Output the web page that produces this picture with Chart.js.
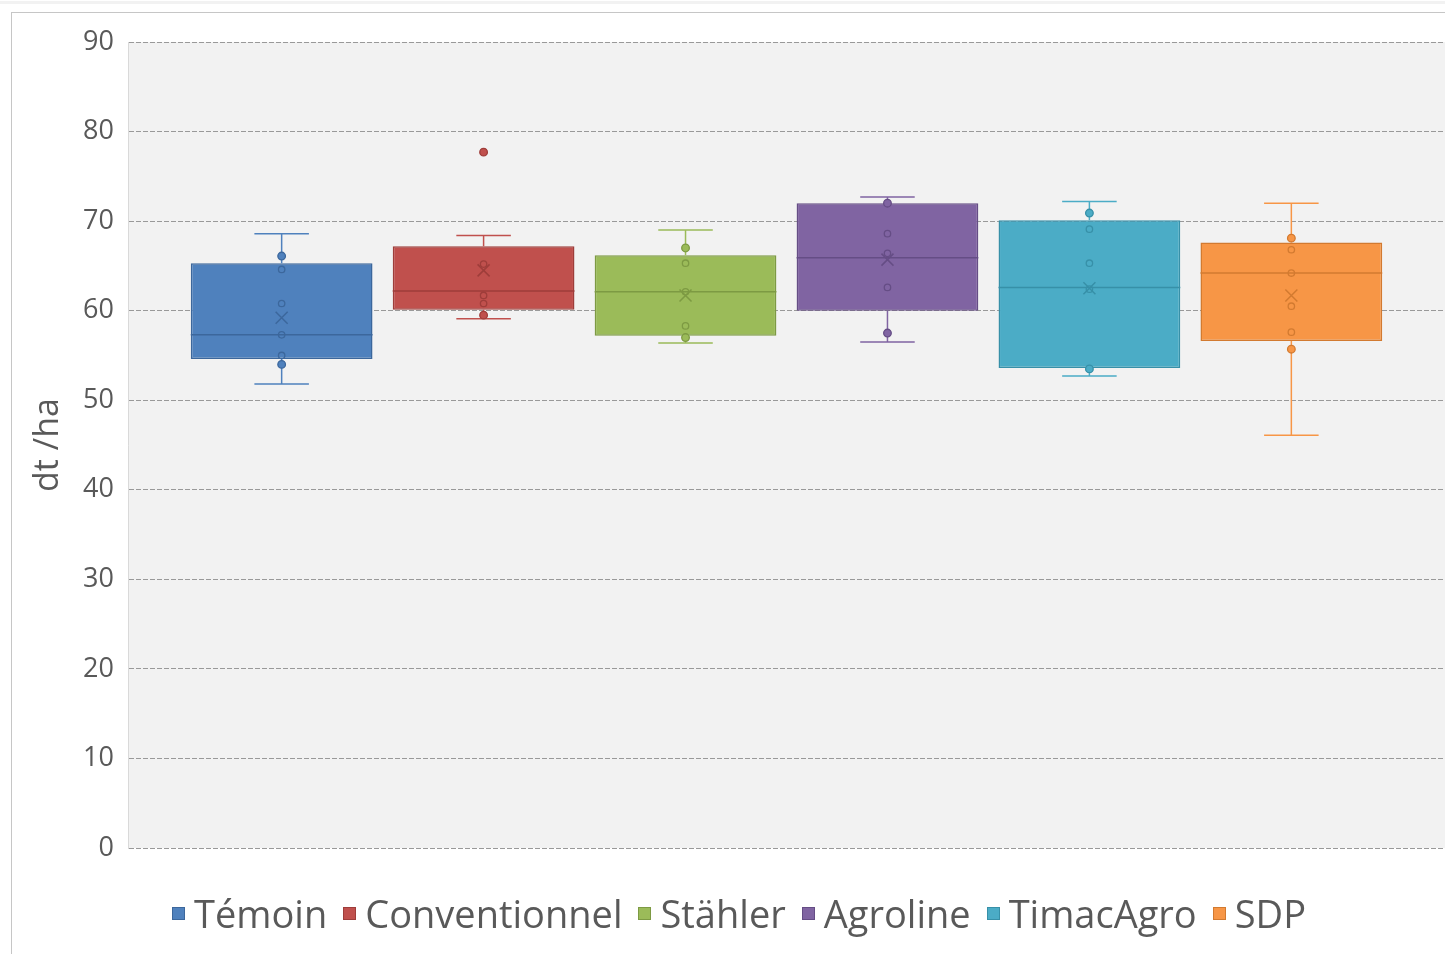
<!DOCTYPE html>
<html>
<head>
<meta charset="utf-8">
<script src="https://cdn.jsdelivr.net/npm/chart.js@4.4.1/dist/chart.umd.min.js"></script>
<style>
  html, body { margin: 0; padding: 0; background: #fff; overflow: hidden; }
  .strip { position: absolute; left: 0; top: 1px; width: 1445px; height: 3px; background: #f2f2f2; }
  .frame { position: absolute; left: 11px; top: 12px; width: 1500px; height: 1000px;
           border-left: 1.5px solid #c6c6c6; border-top: 1.5px solid #c6c6c6; }
  #chart { position: absolute; left: 0; top: 0; }
  #legend { position: absolute; left: 0; top: 894px; width: 1478px; height: 38px;
            display: flex; justify-content: center; align-items: center;
            font-family: 'Open Sans'; font-size: 38px; line-height: 38px; color: #595959; }
  #legend .item { display: flex; align-items: center; margin: 0 8px; white-space: nowrap; }
  #legend .sw { width: 13px; height: 13px; margin-right: 9px; box-sizing: border-box; border: 1px solid; }
</style>
</head>
<body>
<div class="strip"></div>
<div class="frame"></div>
<canvas id="chart" width="1445" height="954"></canvas>
<div id="legend"></div>
<script>
// categories and box statistics (dt/ha)
const categories = ['Témoin', 'Conventionnel', 'Stähler', 'Agroline', 'TimacAgro', 'SDP'];
const boxQ1 = [54.6, 60.1, 57.2, 60.0, 53.6, 56.6];
const boxQ3 = [65.3, 67.2, 66.2, 72.0, 70.1, 67.6];
const medians = [57.3, 62.2, 62.1, 65.9, 62.6, 64.2];
const means = [59.2, 64.5, 61.7, 65.7, 62.5, 61.7];
const whiskerLow = [51.8, 59.1, 56.4, 56.5, 52.7, 46.1];
const whiskerHigh = [68.6, 68.4, 69.0, 72.7, 72.2, 72.0];
const innerPoints = [
  [64.6, 60.8, 57.3, 55.0],
  [65.2, 61.7, 60.8],
  [65.3, 62.1, 58.3],
  [68.6, 66.4, 62.6],
  [69.1, 65.3, 62.4],
  [66.8, 64.2, 60.5, 57.6]
];
const edgePoints = [
  [66.1, 54.0],
  [77.7, 59.5],
  [67.0, 57.0],
  [72.0, 57.5],
  [70.9, 53.5],
  [68.1, 55.7]
];
const yTicks = [0, 10, 20, 30, 40, 50, 60, 70, 80, 90];

const fills = ['#4f81bd', '#c0504d', '#9bbb59', '#8064a2', '#4bacc6', '#f79646'];
const darks = ['#3c679c', '#9e3d3a', '#7d9a43', '#654d85', '#3790a8', '#d27a30'];

const plotBackground = {
  id: 'plotBackground',
  beforeDraw(chart) {
    const { ctx, chartArea: a } = chart;
    ctx.save();
    ctx.fillStyle = '#f2f2f2';
    ctx.fillRect(a.left, a.top, a.right - a.left, a.bottom - a.top);
    ctx.restore();
  }
};

// whiskers, median, points and mean marker on top of each floating bar
const boxExtras = {
  id: 'boxExtras',
  afterDatasetsDraw(chart) {
    const ctx = chart.ctx;
    const y = chart.scales.y;
    categories.forEach((name, i) => {
      const bar = chart.getDatasetMeta(i).data[0];
      if (!bar) return;
      const x = bar.x;
      const w = bar.width;
      const cap = w * 0.15;
      ctx.save();
      ctx.lineWidth = 1.5;

      // whiskers
      ctx.strokeStyle = fills[i];
      ctx.beginPath();
      ctx.moveTo(x, y.getPixelForValue(boxQ3[i]));
      ctx.lineTo(x, y.getPixelForValue(whiskerHigh[i]));
      ctx.moveTo(x - cap, y.getPixelForValue(whiskerHigh[i]));
      ctx.lineTo(x + cap, y.getPixelForValue(whiskerHigh[i]));
      ctx.moveTo(x, y.getPixelForValue(boxQ1[i]));
      ctx.lineTo(x, y.getPixelForValue(whiskerLow[i]));
      ctx.moveTo(x - cap, y.getPixelForValue(whiskerLow[i]));
      ctx.lineTo(x + cap, y.getPixelForValue(whiskerLow[i]));
      ctx.stroke();

      // median
      ctx.strokeStyle = darks[i];
      ctx.beginPath();
      ctx.moveTo(x - w / 2, y.getPixelForValue(medians[i]));
      ctx.lineTo(x + w / 2, y.getPixelForValue(medians[i]));
      ctx.stroke();

      // inner points (hollow)
      ctx.lineWidth = 1.3;
      innerPoints[i].forEach(v => {
        ctx.beginPath();
        ctx.arc(x, y.getPixelForValue(v), 3.2, 0, Math.PI * 2);
        ctx.stroke();
      });

      // edge points (filled)
      ctx.fillStyle = fills[i];
      edgePoints[i].forEach(v => {
        ctx.beginPath();
        ctx.arc(x, y.getPixelForValue(v), 3.8, 0, Math.PI * 2);
        ctx.fill();
        ctx.stroke();
      });

      // mean marker
      const my = y.getPixelForValue(means[i]);
      ctx.lineWidth = 1.5;
      ctx.beginPath();
      ctx.moveTo(x - 6, my - 6);
      ctx.lineTo(x + 6, my + 6);
      ctx.moveTo(x + 6, my - 6);
      ctx.lineTo(x - 6, my + 6);
      ctx.stroke();
      ctx.restore();
    });
  }
};

const chart = new Chart(document.getElementById('chart'), {
  type: 'bar',
  data: {
    labels: [''],
    datasets: categories.map((name, i) => ({
      label: name,
      data: [[boxQ1[i], boxQ3[i]]],
      backgroundColor: fills[i],
      borderColor: darks[i],
      borderWidth: 1.5,
      borderSkipped: false,
      barPercentage: 0.9,
      categoryPercentage: 0.92
    }))
  },
  options: {
    responsive: false,
    animation: false,
    devicePixelRatio: 1,
    layout: { padding: { top: 42, right: 0, bottom: 0, left: 0 } },
    plugins: {
      tooltip: { enabled: false },
      legend: { display: false }
    },
    scales: {
      x: {
        afterFit(scale) { scale.height = 106; },
        ticks: { display: false },
        grid: { display: false },
        border: { display: false }
      },
      y: {
        min: 0,
        max: 90,
        afterFit(scale) { scale.width = 128; },
        afterBuildTicks(scale) { scale.ticks = yTicks.map(v => ({ value: v })); },
        ticks: {
          padding: 14,
          color: '#595959',
          font: { family: 'Open Sans', size: 27 }
        },
        grid: { color: '#999999', lineWidth: 1, drawTicks: false },
        border: { display: true, color: '#d9d9d9', dash: [5, 2] },
        title: {
          display: true,
          text: 'dt /ha',
          color: '#595959',
          padding: { top: 28 },
          font: { family: 'Open Sans', size: 34 }
        }
      }
    }
  },
  plugins: [plotBackground, boxExtras]
});

// legend built from the chart's datasets
const legendEl = document.getElementById('legend');
chart.data.datasets.forEach(ds => {
  const item = document.createElement('div');
  item.className = 'item';
  const sw = document.createElement('span');
  sw.className = 'sw';
  sw.style.background = ds.backgroundColor;
  sw.style.borderColor = ds.borderColor;
  const label = document.createElement('span');
  label.textContent = ds.label;
  item.appendChild(sw);
  item.appendChild(label);
  legendEl.appendChild(item);
});
</script>
</body>
</html>
